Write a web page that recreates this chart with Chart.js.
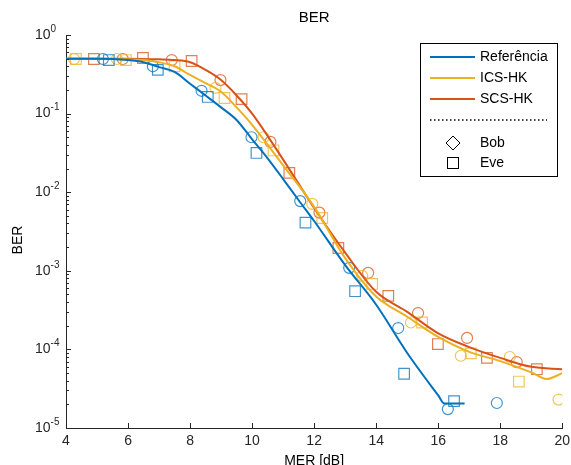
<!DOCTYPE html>
<html>
<head>
<meta charset="utf-8">
<script src="https://cdn.jsdelivr.net/npm/chart.js@4"></script>
<style>
  html, body { margin: 0; padding: 0; background: #ffffff; }
  #wrap { width: 571px; height: 465px; }
</style>
</head>
<body>
<div id="wrap"><canvas id="c" width="571" height="465"></canvas></div>
<script>
// Axis tick values
const xTicks = [4, 6, 8, 10, 12, 14, 16, 18, 20];
const yExponents = [0, -1, -2, -3, -4, -5];

// Simulated BER curves (solid lines)
const refMer = [4, 5, 6, 6.5, 7, 7.5, 8, 8.5, 9, 9.5, 10, 10.5, 11, 11.5, 12, 13, 14, 15, 16, 16.2, 16.85];
const refBer = [0.5, 0.5, 0.48, 0.45, 0.39, 0.34, 0.24, 0.17, 0.12, 0.083, 0.047, 0.027, 0.0147, 0.0079, 0.0043, 1.18e-3, 3.7e-4, 9e-5, 2.6e-5, 2.05e-5, 2.05e-5];

const icsMer = [4, 5, 6, 6.5, 7, 7.5, 8, 8.5, 9, 9.5, 10, 11, 12, 13, 14, 15, 16, 17, 18, 19, 19.5, 20];
const icsBer = [0.5, 0.5, 0.49, 0.48, 0.45, 0.40, 0.31, 0.245, 0.19, 0.12, 0.072, 0.022, 6.5e-3, 1.45e-3, 4.7e-4, 2.6e-4, 1.44e-4, 9.3e-5, 7.1e-5, 5.1e-5, 4.2e-5, 5.0e-5];

const scsMer = [4, 5, 6, 7, 7.5, 8, 8.5, 9, 9.5, 10, 11, 12, 13, 14, 15, 16, 17, 18, 19, 20];
const scsBer = [0.5, 0.5, 0.5, 0.49, 0.48, 0.45, 0.36, 0.267, 0.17, 0.10, 0.026, 6.3e-3, 1.7e-3, 5.4e-4, 3.0e-4, 1.6e-4, 1.07e-4, 7.8e-5, 6.0e-5, 5.6e-5];

// Measured points: Bob (circles) and Eve (squares)
const refBobMer = [5.19, 6.8, 8.37, 9.98, 11.55, 13.13, 14.71, 16.31, 17.89];
const refBobBer = [0.495, 0.40, 0.195, 0.050, 0.0077, 1.09e-3, 1.87e-4, 1.74e-5, 2.08e-5];
const refEveMer = [5.38, 6.96, 8.57, 10.14, 11.72, 13.32, 14.9, 16.51];
const refEveBer = [0.48, 0.36, 0.163, 0.0316, 0.0041, 5.5e-4, 4.9e-5, 2.2e-5];

const icsBobMer = [4.26, 5.64, 8.82, 10.37, 11.94, 13.55, 15.12, 16.73, 18.31, 19.88];
const icsBobBer = [0.495, 0.495, 0.212, 0.050, 0.0071, 8.6e-4, 2.2e-4, 8.3e-5, 8.0e-5, 2.3e-5];
const icsEveMer = [4.32, 5.93, 7.5, 9.11, 10.69, 12.26, 13.87, 15.48, 17.05, 18.6];
const icsEveBer = [0.495, 0.48, 0.40, 0.158, 0.034, 0.0047, 6.8e-4, 2.2e-4, 8.9e-5, 3.9e-5];

const scsBobMer = [5.83, 7.41, 8.98, 10.59, 12.17, 13.74, 15.35, 16.93, 18.53];
const scsBobBer = [0.495, 0.48, 0.267, 0.0436, 0.0055, 9.4e-4, 2.9e-4, 1.4e-4, 6.9e-5];
const scsEveMer = [4.9, 6.48, 8.05, 9.66, 11.2, 12.78, 14.39, 15.99, 17.57, 19.18];
const scsEveBer = [0.495, 0.51, 0.467, 0.153, 0.0176, 1.95e-3, 4.8e-4, 1.17e-4, 7.8e-5, 5.6e-5];

const seriesNames = ['Referência', 'ICS-HK', 'SCS-HK'];
const markerNames = ['Bob', 'Eve'];

const BLUE = '#0072BD', YELLOW = '#EDB120', RED = '#D95319';
const BLUE_M = 'rgba(0,114,189,0.75)', YELLOW_M = 'rgba(237,177,32,0.75)', RED_M = 'rgba(217,83,25,0.75)';
const FONT = '"Liberation Sans", Arial, sans-serif';
const AXIS = '#262626';

const pts = (xs, ys) => xs.map((x, i) => ({ x: x, y: ys[i] }));

function curve(label, xs, ys, color) {
  return {
    label: label, data: pts(xs, ys), borderColor: color, borderWidth: 2,
    pointRadius: 0, fill: false, cubicInterpolationMode: 'monotone', order: 0
  };
}
function marks(label, xs, ys, color, style, r) {
  return {
    label: label, data: pts(xs, ys), showLine: false, borderColor: color,
    pointBorderColor: color, pointBackgroundColor: 'rgba(0,0,0,0)',
    pointStyle: style, pointRadius: r, pointBorderWidth: 1.2, order: 1
  };
}

// Inward ticks, exponent labels, titles and the legend box
const decorations = {
  id: 'decorations',
  afterDraw(chart) {
    const ctx = chart.ctx;
    const xs = chart.scales.x, ys = chart.scales.y;
    const a = chart.chartArea;
    ctx.save();
    ctx.strokeStyle = AXIS;
    ctx.lineWidth = 1;
    ctx.beginPath();
    // x ticks
    xTicks.forEach(v => {
      const px = Math.round(xs.getPixelForValue(v)) + 0.5;
      ctx.moveTo(px, a.bottom); ctx.lineTo(px, a.bottom - 5);
    });
    // y major and minor ticks
    yExponents.forEach(e => {
      const py = Math.round(ys.getPixelForValue(Math.pow(10, e))) + 0.5;
      ctx.moveTo(a.left, py); ctx.lineTo(a.left + 5, py);
      if (e < 0) {
        for (let m = 2; m <= 9; m++) {
          const my = Math.round(ys.getPixelForValue(m * Math.pow(10, e))) + 0.5;
          ctx.moveTo(a.left, my); ctx.lineTo(a.left + 3, my);
        }
      }
    });
    ctx.stroke();

    ctx.fillStyle = '#262626';
    // x tick labels
    ctx.font = '14px ' + FONT;
    ctx.textAlign = 'center';
    ctx.textBaseline = 'middle';
    xTicks.forEach(v => ctx.fillText(String(v), xs.getPixelForValue(v), a.bottom + 13));
    // y tick labels as 10^e
    yExponents.forEach(e => {
      const py = ys.getPixelForValue(Math.pow(10, e));
      ctx.font = '14px ' + FONT;
      ctx.textAlign = 'left';
      ctx.textBaseline = 'middle';
      ctx.fillText('10', 35, py);
      const w = ctx.measureText('10').width;
      ctx.font = '10px ' + FONT;
      ctx.fillText(e === 0 ? '0' : '-' + Math.abs(e), 35 + w, py - 6);
    });

    // title and axis titles
    ctx.fillStyle = '#000000';
    ctx.font = '15px ' + FONT;
    ctx.textAlign = 'center';
    ctx.textBaseline = 'middle';
    ctx.fillText('BER', (a.left + a.right) / 2, 18);
    ctx.font = '14px ' + FONT;
    ctx.fillText('MER [dB]', (a.left + a.right) / 2, 461);
    ctx.save();
    ctx.translate(18, 240);
    ctx.rotate(-Math.PI / 2);
    ctx.fillText('BER', 0, 0);
    ctx.restore();

    // legend
    const lx = 420, ly = 43, lw = 137, lh = 133;
    ctx.fillStyle = '#ffffff';
    ctx.fillRect(lx, ly, lw, lh);
    ctx.strokeStyle = '#000000';
    ctx.lineWidth = 1;
    ctx.strokeRect(lx + 0.5, ly + 0.5, lw, lh);
    const lineColors = [BLUE, YELLOW, RED];
    const rowY = [57, 78, 99];
    ctx.font = '14px ' + FONT;
    ctx.textAlign = 'left';
    ctx.textBaseline = 'middle';
    seriesNames.forEach((n, i) => {
      ctx.strokeStyle = lineColors[i];
      ctx.lineWidth = 2;
      ctx.beginPath();
      ctx.moveTo(430, rowY[i]); ctx.lineTo(475, rowY[i]);
      ctx.stroke();
      ctx.fillStyle = '#000000';
      ctx.fillText(n, 480, rowY[i]);
    });
    // dotted separator
    ctx.strokeStyle = '#000000';
    ctx.lineWidth = 1.5;
    ctx.setLineDash([1.5, 2.5]);
    ctx.beginPath();
    ctx.moveTo(430, 120); ctx.lineTo(547, 120);
    ctx.stroke();
    ctx.setLineDash([]);
    // marker keys
    ctx.lineWidth = 1;
    ctx.beginPath();
    ctx.moveTo(453, 136); ctx.lineTo(460, 143); ctx.lineTo(453, 150); ctx.lineTo(446, 143); ctx.closePath();
    ctx.stroke();
    ctx.strokeRect(447.5, 157.5, 11, 11);
    ctx.fillStyle = '#000000';
    ctx.fillText(markerNames[0], 480, 143);
    ctx.fillText(markerNames[1], 480, 163);
    ctx.restore();
  }
};

new Chart(document.getElementById('c'), {
  type: 'line',
  data: {
    datasets: [
      curve(seriesNames[0], refMer, refBer, BLUE),
      curve(seriesNames[1], icsMer, icsBer, YELLOW),
      curve(seriesNames[2], scsMer, scsBer, RED),
      marks('Referência Bob', refBobMer, refBobBer, BLUE_M, 'circle', 5.5),
      marks('Referência Eve', refEveMer, refEveBer, BLUE_M, 'rect', 7.5),
      marks('ICS-HK Bob', icsBobMer, icsBobBer, YELLOW_M, 'circle', 5.5),
      marks('ICS-HK Eve', icsEveMer, icsEveBer, YELLOW_M, 'rect', 7.5),
      marks('SCS-HK Bob', scsBobMer, scsBobBer, RED_M, 'circle', 5.5),
      marks('SCS-HK Eve', scsEveMer, scsEveBer, RED_M, 'rect', 7.5)
    ]
  },
  options: {
    responsive: false,
    animation: false,
    devicePixelRatio: 1,
    layout: { padding: { left: 0, right: 7, top: 35, bottom: 0 } },
    plugins: { legend: { display: false }, title: { display: false }, tooltip: { enabled: false } },
    scales: {
      x: {
        type: 'linear', min: 4, max: 20,
        grid: { display: false },
        ticks: { display: false },
        border: { display: true, color: AXIS, width: 1 },
        afterFit(s) { s.height = 37; }
      },
      y: {
        type: 'logarithmic', min: 1e-5, max: 1,
        grid: { display: false },
        ticks: { display: false },
        border: { display: true, color: AXIS, width: 1 },
        afterFit(s) { s.width = 66; }
      }
    }
  },
  plugins: [decorations]
});
</script>
</body>
</html>
